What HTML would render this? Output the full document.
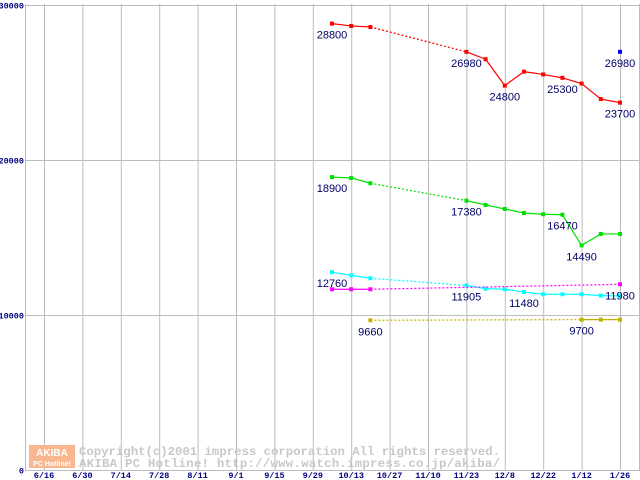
<!DOCTYPE html>
<html><head><meta charset="utf-8"><style>
body{margin:0;background:#fff;width:640px;height:480px;overflow:hidden}
svg{display:block}
.ax{font-family:"Liberation Mono",monospace;font-size:8.5px;fill:#000080;font-weight:bold}
.lb{font-family:"Liberation Sans",sans-serif;font-size:11px;fill:#000066}
.wm{font-family:"Liberation Mono",monospace;font-size:12.4px;fill:#c8c8c8;font-weight:bold}
</style></head><body>
<svg id="c" width="640" height="480"></svg>
<script>
const dateLabels=["6/16","6/30","7/14","7/28","8/11","9/1","9/15","9/29","10/13","10/27","11/10","11/23","12/8","12/22","1/12","1/26"];
const yTicks=[0,10000,20000,30000];
const redVals=[28800,28650,28580,null,null,null,null,26980,26500,24800,25700,25520,25300,24930,23930,23700];
const greenVals=[18900,18840,18500,null,null,null,null,17380,17100,16840,16580,16500,16470,14490,15230,15230];
const cyanVals=[12760,12560,12370,null,null,null,null,11905,11700,11660,11480,11340,11340,11340,11250,11230];
const magentaVals=[11660,11660,11660,null,null,null,null,null,null,null,null,null,null,null,null,11980];
const oliveVals=[null,null,9660,null,null,null,null,null,null,null,null,null,null,9700,9700,9700];
const blueVals=[null,null,null,null,null,null,null,null,null,null,null,null,null,null,null,26980];
const labels=[["red",0,"28800"],["red",7,"26980"],["red",9,"24800"],["red",12,"25300"],["red",15,"23700"],["blue",15,"26980"],["green",0,"18900"],["green",7,"17380"],["green",12,"16470"],["green",13,"14490"],["cyan",0,"12760"],["cyan",7,"11905"],["cyan",10,"11480"],["magenta",15,"11980"],["olive",2,"9660"],["olive",13,"9700"]];
const NS="http://www.w3.org/2000/svg";
const svg=document.getElementById('c');
function X(w){return 44+w*19.2;}
function xi(i){return X(15+i);}
function Y(v){return 470-v*0.0155;}
function el(t,a,p){const e=document.createElementNS(NS,t);for(const k in a)e.setAttribute(k,a[k]);(p||svg).appendChild(e);return e;}
const g=el('g',{});


for(let k=0;k<dateLabels.length;k++){
  const x=X(k*2)+0.5;
  const l=el('line',{x1:x,y1:4,x2:x,y2:470,stroke:'#bcbcbc','stroke-width':1},g);
  
  
  const t=el('text',{x:X(k*2),y:478,'text-anchor':'middle',class:'ax'});
  t.textContent=dateLabels[k];
  
  
}
el('line',{x1:25.5,y1:4,x2:25.5,y2:470,stroke:'#bcbcbc'},g);
el('line',{x1:639.5,y1:4,x2:639.5,y2:470,stroke:'#bcbcbc'},g);
for(const v of yTicks){
  const y=Math.round(Y(v))+0.5;
  const l=el('line',{x1:25,y1:y,x2:640,y2:y,stroke:'#bcbcbc'},g);
  
  
  const t=el('text',{x:24,y:y+3,'text-anchor':'end',class:'ax'});
  t.textContent=String(v);
  
  
}
const wm=el('g',{});


el('rect',{x:29,y:445,width:46,height:23,fill:'#f9b78f'},wm);
let t1=el('text',{x:52,y:456,'text-anchor':'middle','font-family':'Liberation Sans,sans-serif','font-size':'10px','font-weight':'bold',fill:'#fff'},wm);t1.textContent='AKIBA';
let t2=el('text',{x:52,y:466,'text-anchor':'middle','font-family':'Liberation Sans,sans-serif','font-size':'7px','font-weight':'bold',fill:'#fff'},wm);t2.textContent='PC Hotline!';
let t3=el('text',{x:79,y:455,class:'wm',textLength:421,lengthAdjust:'spacing'},wm);t3.textContent='Copyright(c)2001 impress corporation All rights reserved.';
let t4=el('text',{x:79,y:467,class:'wm',textLength:421,lengthAdjust:'spacing'},wm);t4.textContent='AKIBA PC Hotline!  http://www.watch.impress.co.jp/akiba/';
const series={red:[redVals,'#ff0000'],green:[greenVals,'#00e000'],cyan:[cyanVals,'#00ffff'],magenta:[magentaVals,'#ff00ff'],olive:[oliveVals,'#c0b000'],blue:[blueVals,'#0000ff']};
for(const name in series){
  const [vals,col]=series[name];
  const sg=el('g',{});
  
  
  let prev=-1;
  for(let i=0;i<vals.length;i++){
    if(vals[i]==null)continue;
    if(prev>=0){
      const dotted=(i-prev)>1;
      const ln=el('line',{x1:xi(prev),y1:Y(vals[prev]),x2:xi(i),y2:Y(vals[i]),stroke:col,'stroke-width':1.2,'stroke-dasharray':dotted?'2,2':'none'},sg);
      
      
    }
    prev=i;
  }
  for(let i=0;i<vals.length;i++){
    if(vals[i]==null)continue;
    const r=el('rect',{x:xi(i)-2,y:Y(vals[i])-2,width:4,height:4,fill:col},sg);
    
    
  }
}
for(const [s,i,txt] of labels){
  const v=series[s][0][i];
  const t=el('text',{x:xi(i),y:Y(v)+15,'text-anchor':'middle',class:'lb'});
  t.textContent=txt;
  
  
}
</script>
</body></html>
